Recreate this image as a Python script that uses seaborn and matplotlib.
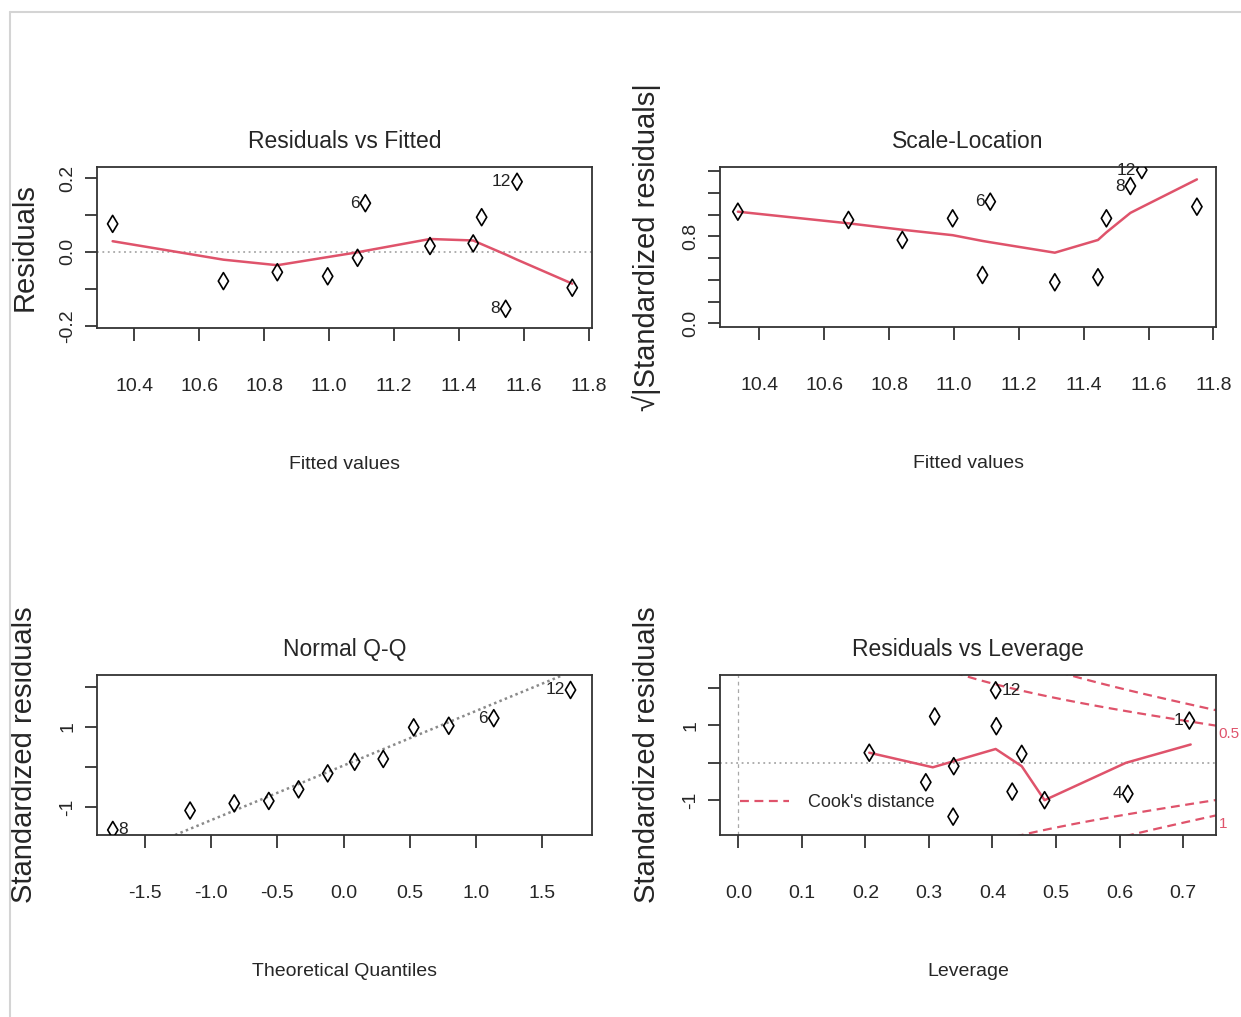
import numpy as np
import pandas as pd
import seaborn as sns
import matplotlib.pyplot as plt
from matplotlib.lines import Line2D

# Residuals vs Fitted / Scale-Location (sorted by fitted value)
fitted = [10.334, 10.675, 10.841, 10.996, 11.088, 11.112, 11.311, 11.444, 11.470, 11.544, 11.579, 11.749]
resid = [0.076, -0.079, -0.055, -0.066, -0.016, 0.132, 0.016, 0.023, 0.094, -0.154, 0.190, -0.097]
resid_smooth = [0.029, -0.021, -0.036, -0.014, -0.001, 0.003, 0.035, 0.031, 0.021, -0.007, -0.021, -0.086]
sqrt_std = [1.026, 0.950, 0.766, 0.965, 0.444, 1.118, 0.377, 0.423, 0.965, 1.262, 1.409, 1.072]
sqrt_smooth = [1.026, 0.919, 0.860, 0.810, 0.757, 0.745, 0.649, 0.766, 0.836, 1.015, 1.068, 1.323]
fit_ids = ["", "", "", "", "", "6", "", "", "", "8", "12", ""]

# Normal Q-Q
theo_q = [-1.744, -1.160, -0.826, -0.565, -0.340, -0.120, 0.084, 0.300, 0.530, 0.795, 1.135, 1.715]
std_sorted = [-1.575, -1.090, -0.910, -0.850, -0.560, -0.160, 0.130, 0.200, 0.990, 1.030, 1.220, 1.925]
qq_ids = ["8", "", "", "", "", "", "", "", "", "", "6", "12"]
qq_slope = 1.364
qq_intercept = 0.036

# Residuals vs Leverage
leverage = [0.206, 0.309, 0.295, 0.339, 0.338, 0.405, 0.406, 0.446, 0.431, 0.482, 0.613, 0.710]
lev_std = [0.27, 1.24, -0.52, -0.09, -1.44, 1.94, 0.98, 0.24, -0.77, -1.00, -0.83, 1.13]
lev_ids = ["", "", "", "", "", "12", "", "", "", "", "4", "1"]
lev_smooth_x = [0.206, 0.306, 0.405, 0.446, 0.482, 0.610, 0.712]
lev_smooth_y = [0.27, -0.12, 0.37, -0.09, -1.00, 0.00, 0.49]
n_params = 6
cook_levels = [0.5, 1]

RED = "#DF536B"
FONT = ["Liberation Sans", "DejaVu Sans"]

sns.set_style("white")
plt.rcParams["font.family"] = FONT

fig = plt.figure(figsize=(12.41, 10.17), dpi=100)
fig.add_artist(Line2D([10 / 1241, 1], [1 - 12 / 1017] * 2, color="#d4d4d4", lw=1.5))
fig.add_artist(Line2D([10 / 1241] * 2, [0, 1 - 12 / 1017], color="#d4d4d4", lw=1.5))

ax1 = fig.add_axes([0.0782, 0.6775, 0.3989, 0.1583])
ax2 = fig.add_axes([0.5802, 0.6785, 0.3997, 0.1573])
ax3 = fig.add_axes([0.0782, 0.1790, 0.3989, 0.1573])
ax4 = fig.add_axes([0.5802, 0.1790, 0.3997, 0.1573])


def points(ax, x, y):
    sns.scatterplot(x=x, y=y, marker="d", s=75, ax=ax, zorder=4)
    coll = ax.collections[-1]
    coll.set_facecolor("none")
    coll.set_edgecolor("black")
    coll.set_linewidth(1.2)


def smooth(ax, x, y):
    sns.lineplot(x=x, y=y, sort=False, estimator=None, color=RED, lw=1.8, ax=ax)


def ids(ax, x, y, labels):
    mid = (min(x) + max(x)) / 2
    for xi, yi, lab in zip(x, y, labels):
        if not lab:
            continue
        right = xi < mid
        ax.annotate(lab, (xi, yi), xytext=(4 if right else -4, 0), textcoords="offset points",
                    ha="left" if right else "right", va="center", fontsize=12.5,
                    color="#222222", annotation_clip=False)


def style(ax, title, xlabel, ylabel, xticks, yticks, ylabels):
    ax.set_title(title, fontsize=16.5, pad=14)
    ax.set_xticks(xticks)
    ax.set_xticklabels([f"{t:.1f}" for t in xticks], fontsize=14)
    ax.set_yticks(yticks)
    ax.set_yticklabels(ylabels, rotation=90, va="center", fontsize=14)
    ax.tick_params(axis="x", bottom=True, direction="out", length=9, width=1.3, color="#333333", pad=27)
    ax.tick_params(axis="y", left=True, direction="out", length=9, width=1.3, color="#333333", pad=6)
    ax.set_xlabel(xlabel, fontsize=14, labelpad=44)
    ax.set_ylabel(ylabel, fontsize=21, labelpad=15)
    for sp in ax.spines.values():
        sp.set_color("#333333")
        sp.set_linewidth(1.3)


# 1 Residuals vs Fitted
ax1.axhline(0, color="#a8a8a8", ls=(0, (1, 2)), lw=1.3)
smooth(ax1, fitted, resid_smooth)
points(ax1, fitted, resid)
ids(ax1, fitted, resid, fit_ids)
ax1.set_xlim(10.286, 11.81)
ax1.set_ylim(-0.206, 0.23)
style(ax1, "Residuals vs Fitted", "Fitted values", "Residuals",
      [10.4, 10.6, 10.8, 11.0, 11.2, 11.4, 11.6, 11.8],
      [-0.2, -0.1, 0.0, 0.1, 0.2], ["-0.2", "", "0.0", "", "0.2"])

# 2 Scale-Location
smooth(ax2, fitted, sqrt_smooth)
points(ax2, fitted, sqrt_std)
ids(ax2, fitted, sqrt_std, fit_ids)
ax2.set_xlim(10.279, 11.808)
ax2.set_ylim(-0.034, 1.437)
style(ax2, "Scale-Location", "Fitted values", "√|Standardized residuals|",
      [10.4, 10.6, 10.8, 11.0, 11.2, 11.4, 11.6, 11.8],
      [0.0, 0.2, 0.4, 0.6, 0.8, 1.0, 1.2, 1.4], ["0.0", "", "", "", "0.8", "", "", ""])

# 3 Normal Q-Q
ax3.axline((0, qq_intercept), slope=qq_slope, color="#8a8a8a", ls=(0, (1, 1.3)), lw=1.8)
points(ax3, theo_q, std_sorted)
ids(ax3, theo_q, std_sorted, qq_ids)
ax3.set_xlim(-1.863, 1.878)
ax3.set_ylim(-1.7, 2.3)
style(ax3, "Normal Q-Q", "Theoretical Quantiles", "Standardized residuals",
      [-1.5, -1.0, -0.5, 0.0, 0.5, 1.0, 1.5],
      [-1, 0, 1, 2], ["-1", "", "1", ""])

# 4 Residuals vs Leverage
ax4.set_xlim(-0.029, 0.752)
ax4.set_ylim(-1.93, 2.35)
ax4.axhline(0, color="#a8a8a8", ls=(0, (1, 2)), lw=1.3)
ax4.axvline(0, color="#a8a8a8", ls=(0, (3, 3)), lw=0.9)
hh = np.linspace(0.005, 0.752, 101)
for crit in cook_levels:
    cl = np.sqrt(crit * n_params * (1 - hh) / hh)
    for sgn in (1, -1):
        sns.lineplot(x=hh, y=sgn * cl, sort=False, estimator=None, color=RED, lw=1.6,
                     ax=ax4).lines[-1].set_dashes((4, 2.5))
smooth(ax4, lev_smooth_x, lev_smooth_y)
points(ax4, leverage, lev_std)
ids(ax4, leverage, lev_std, lev_ids)
xmax = 0.752
for crit, sgn in [(0.5, 1), (1, -1)]:
    ax4.annotate(f"{crit:g}", (1, sgn * np.sqrt(crit * n_params * (1 - xmax) / xmax)),
                 xycoords=("axes fraction", "data"), xytext=(2, -6), textcoords="offset points",
                 ha="left", va="center", color=RED, fontsize=11, annotation_clip=False)
ax4.legend(handles=[Line2D([], [], color=RED, lw=1.6, dashes=(4, 2.5))], labels=["Cook's distance"],
           loc="center left", bbox_to_anchor=(0.04, 0.2), frameon=False, borderaxespad=0, borderpad=0,
           handlelength=2.7, handletextpad=1.1, prop={"size": 13})
style(ax4, "Residuals vs Leverage", "Leverage", "Standardized residuals",
      [0.0, 0.1, 0.2, 0.3, 0.4, 0.5, 0.6, 0.7],
      [-1, 0, 1, 2], ["-1", "", "1", ""])

fig.savefig("out.png", dpi=100)
